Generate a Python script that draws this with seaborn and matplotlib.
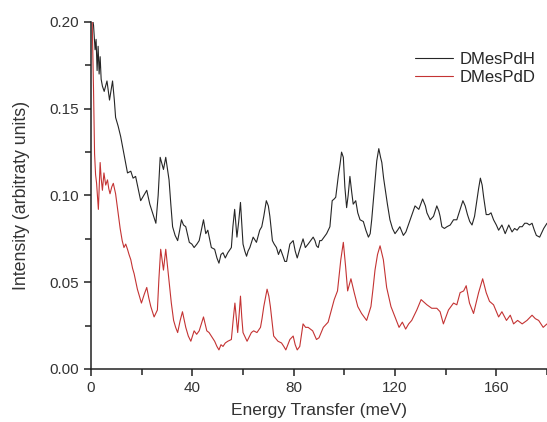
import numpy as np
import pandas as pd
import seaborn as sns
import matplotlib
matplotlib.use("Agg")
import matplotlib.pyplot as plt
from matplotlib.ticker import MultipleLocator

# DMesPdH (black) spectrum, energy transfer (meV) / intensity
h_energy = [0.3, 1.0, 1.6, 2.0, 2.4, 2.8, 3.2, 3.6, 4.0, 4.5, 5.2, 6.3, 7.3, 8.5, 9.2, 9.7,
            10.7, 11.7, 13.0, 14.4, 15.7, 16.6, 17.6, 18.6, 19.6, 20.8, 22.0, 23.2, 24.3,
            25.6, 26.5, 27.3, 28.6, 29.5, 30.8, 31.5, 32.2, 33.2, 34.2, 35.0, 35.7, 36.5,
            37.4, 38.8, 39.8, 40.7, 41.8, 42.7, 44.4, 45.3, 46.1, 47.5, 48.8, 49.7, 50.5,
            51.3, 52.1, 53.0, 54.0, 55.4, 56.0, 56.7, 57.6, 58.3, 59.0, 59.6, 60.0, 60.7,
            61.4, 62.0, 62.7, 64.0, 65.3, 66.6, 67.4, 68.2, 69.2, 70.0, 70.6, 71.6, 72.3,
            73.2, 74.0, 74.8, 75.8, 76.5, 77.2, 78.5, 79.8, 80.6, 81.4, 82.4, 83.7, 84.6,
            85.7, 86.7, 87.7, 88.4, 89.0, 89.7, 90.3, 91.0, 92.0, 93.0, 94.3, 95.2, 96.0,
            96.6, 97.6, 98.3, 98.9, 99.6, 100.2, 100.9, 101.5, 102.2, 102.9, 103.5, 104.5,
            105.3, 106.2, 107.5, 108.5, 109.5, 110.2, 110.8, 111.5, 112.1, 112.8, 113.6,
            114.3, 114.8, 115.5, 116.1, 117.0, 118.0, 119.0, 120.0, 121.0, 121.9, 123.3,
            124.3, 125.5, 126.7, 127.9, 129.4, 130.9, 132.0, 132.6, 133.9, 135.2, 136.5,
            137.3, 137.8, 138.5, 139.5, 140.5, 141.8, 143.1, 144.4, 145.7, 146.8, 147.7,
            148.6, 149.5, 150.4, 151.4, 152.3, 153.0, 153.7, 154.4, 155.0, 156.0, 157.0,
            157.9, 158.9, 160.0, 160.9, 162.2, 163.5, 164.9, 166.2, 167.2, 168.2, 169.2,
            170.2, 171.2, 172.1, 173.1, 174.1, 175.0, 175.8, 177.1, 178.7, 180.0]
h_intensity = [0.205, 0.198, 0.184, 0.190, 0.172, 0.186, 0.170, 0.180, 0.167, 0.163, 0.160,
               0.166, 0.155, 0.166, 0.155, 0.145, 0.140, 0.134, 0.124, 0.113, 0.114, 0.110,
               0.111, 0.104, 0.097, 0.100, 0.103, 0.095, 0.090, 0.084, 0.100, 0.122, 0.115,
               0.122, 0.109, 0.095, 0.082, 0.077, 0.074, 0.080, 0.086, 0.083, 0.082, 0.073,
               0.072, 0.070, 0.072, 0.074, 0.086, 0.078, 0.080, 0.070, 0.069, 0.064, 0.061,
               0.066, 0.067, 0.064, 0.067, 0.070, 0.082, 0.092, 0.076, 0.085, 0.096, 0.082,
               0.072, 0.068, 0.065, 0.068, 0.070, 0.076, 0.073, 0.080, 0.082, 0.088, 0.097,
               0.094, 0.088, 0.074, 0.072, 0.070, 0.066, 0.069, 0.065, 0.062, 0.062, 0.072,
               0.074, 0.068, 0.064, 0.069, 0.075, 0.070, 0.072, 0.074, 0.076, 0.074, 0.071,
               0.070, 0.074, 0.074, 0.076, 0.078, 0.082, 0.097, 0.098, 0.099, 0.111, 0.118,
               0.125, 0.122, 0.105, 0.093, 0.100, 0.111, 0.102, 0.095, 0.097, 0.090, 0.086,
               0.085, 0.080, 0.076, 0.078, 0.086, 0.098, 0.109, 0.120, 0.127, 0.122, 0.119,
               0.110, 0.104, 0.095, 0.086, 0.081, 0.078, 0.080, 0.082, 0.077, 0.079, 0.084,
               0.089, 0.094, 0.092, 0.098, 0.094, 0.090, 0.086, 0.088, 0.094, 0.091, 0.088,
               0.082, 0.081, 0.082, 0.083, 0.086, 0.086, 0.092, 0.097, 0.094, 0.089, 0.085,
               0.083, 0.088, 0.097, 0.104, 0.110, 0.106, 0.099, 0.089, 0.089, 0.090, 0.086,
               0.083, 0.080, 0.083, 0.078, 0.083, 0.079, 0.081, 0.080, 0.082, 0.082, 0.084,
               0.084, 0.083, 0.084, 0.080, 0.077, 0.076, 0.081, 0.084]

# DMesPdD (red) spectrum
d_energy = [0.4, 1.0, 1.4, 1.8, 2.2, 2.6, 2.9, 3.6, 4.0, 4.5, 5.1, 5.8, 6.5, 7.0, 7.5, 8.2,
            8.8, 9.7, 10.6, 11.5, 12.3, 13.0, 13.7, 14.4, 15.0, 15.7, 16.4, 17.0, 17.7,
            18.3, 19.1, 19.9, 21.0, 22.0, 22.8, 23.6, 24.9, 26.2, 26.8, 27.5, 28.6, 29.5,
            30.8, 31.7, 32.6, 33.4, 34.2, 35.2, 36.1, 36.8, 37.4, 38.4, 39.4, 40.7, 41.7,
            42.7, 44.4, 45.7, 46.6, 47.5, 48.8, 49.7, 50.5, 51.3, 52.1, 53.0, 54.0, 55.4,
            56.1, 56.8, 57.9, 58.5, 59.0, 59.5, 60.0, 61.6, 63.3, 64.2, 65.5, 66.9, 67.5,
            68.2, 69.5, 70.2, 70.8, 72.1, 73.8, 75.2, 76.1, 76.9, 78.5, 79.8, 80.6, 81.4,
            82.4, 83.7, 84.7, 85.7, 87.5, 89.0, 90.0, 91.7, 93.6, 94.7, 96.0, 97.3, 98.0,
            98.6, 99.6, 100.5, 101.3, 102.6, 103.9, 105.3, 106.8, 108.8, 110.5, 111.3,
            112.1, 113.1, 114.1, 115.4, 116.7, 118.4, 120.0, 121.6, 122.9, 124.2, 125.4,
            126.6, 128.6, 130.3, 132.6, 134.5, 136.5, 137.8, 139.1, 141.1, 143.1, 144.4,
            145.7, 147.1, 148.1, 149.4, 151.0, 153.0, 154.6, 156.0, 157.3, 158.9, 160.9,
            162.2, 164.0, 165.5, 166.8, 168.4, 170.2, 172.1, 174.1, 175.4, 176.7, 178.5,
            180.0]
d_intensity = [0.205, 0.160, 0.124, 0.112, 0.107, 0.098, 0.092, 0.119, 0.110, 0.103, 0.113,
               0.106, 0.109, 0.104, 0.101, 0.105, 0.107, 0.101, 0.091, 0.081, 0.074, 0.070,
               0.072, 0.069, 0.066, 0.063, 0.058, 0.055, 0.050, 0.046, 0.042, 0.038, 0.043,
               0.047, 0.041, 0.036, 0.030, 0.034, 0.052, 0.069, 0.057, 0.069, 0.051, 0.038,
               0.028, 0.024, 0.021, 0.028, 0.033, 0.028, 0.024, 0.019, 0.016, 0.022, 0.020,
               0.022, 0.030, 0.022, 0.021, 0.019, 0.016, 0.013, 0.011, 0.014, 0.013, 0.015,
               0.016, 0.017, 0.028, 0.038, 0.021, 0.032, 0.042, 0.030, 0.021, 0.016, 0.021,
               0.022, 0.021, 0.024, 0.029, 0.036, 0.046, 0.042, 0.036, 0.019, 0.016, 0.015,
               0.013, 0.011, 0.017, 0.019, 0.014, 0.011, 0.013, 0.026, 0.024, 0.024, 0.022,
               0.017, 0.018, 0.024, 0.027, 0.033, 0.040, 0.045, 0.055, 0.063, 0.073, 0.059,
               0.045, 0.052, 0.044, 0.036, 0.032, 0.028, 0.036, 0.046, 0.057, 0.066, 0.071,
               0.063, 0.047, 0.036, 0.030, 0.024, 0.027, 0.023, 0.026, 0.028, 0.034, 0.040,
               0.037, 0.035, 0.035, 0.033, 0.026, 0.034, 0.038, 0.037, 0.044, 0.045, 0.048,
               0.038, 0.032, 0.044, 0.052, 0.044, 0.039, 0.037, 0.030, 0.033, 0.028, 0.031,
               0.026, 0.028, 0.026, 0.028, 0.031, 0.029, 0.028, 0.024, 0.026]

df = pd.concat([
    pd.DataFrame({"energy": h_energy, "intensity": h_intensity, "sample": "DMesPdH"}),
    pd.DataFrame({"energy": d_energy, "intensity": d_intensity, "sample": "DMesPdD"}),
], ignore_index=True)

sns.set_style("ticks")
plt.rcParams["font.family"] = ["Liberation Sans", "DejaVu Sans"]

fig = plt.figure(figsize=(5.47, 4.22), dpi=100)
ax = fig.add_axes([0.1664, 0.1256, 0.8336, 0.8223])

sns.lineplot(data=df, x="energy", y="intensity", hue="sample",
             palette={"DMesPdH": "#262626", "DMesPdD": "#c43333"},
             estimator=None, sort=False, linewidth=0.8, ax=ax)

ax.set_xlim(0, 180)
ax.set_ylim(0, 0.20)
ax.xaxis.set_major_locator(MultipleLocator(40))
ax.xaxis.set_minor_locator(MultipleLocator(20))
ax.yaxis.set_major_locator(MultipleLocator(0.05))
ax.yaxis.set_minor_locator(MultipleLocator(0.025))
ax.yaxis.set_major_formatter(matplotlib.ticker.FormatStrFormatter("%.2f"))
ax.tick_params(which="both", direction="out", length=5, width=1.1, color="#222222",
               labelsize=11, labelcolor="#333333")
ax.tick_params(which="minor", length=4)
for side in ["top", "right"]:
    ax.spines[side].set_visible(False)
for side in ["left", "bottom"]:
    ax.spines[side].set_linewidth(1.1)
    ax.spines[side].set_color("#222222")

ax.set_xlabel("Energy Transfer (meV)", fontsize=12.5, color="#333333", labelpad=6)
ax.set_ylabel("Intensity (arbitraty units)", fontsize=12.8, color="#333333", labelpad=14)

ax.legend(title=None, frameon=False, fontsize=12, loc="upper left",
          bbox_to_anchor=(415 / 547, 1 - 52 / 422), bbox_transform=fig.transFigure,
          handlelength=2.3, handletextpad=0.35, borderpad=0, borderaxespad=0,
          labelspacing=0.2)

fig.savefig("out.png", dpi=100)
